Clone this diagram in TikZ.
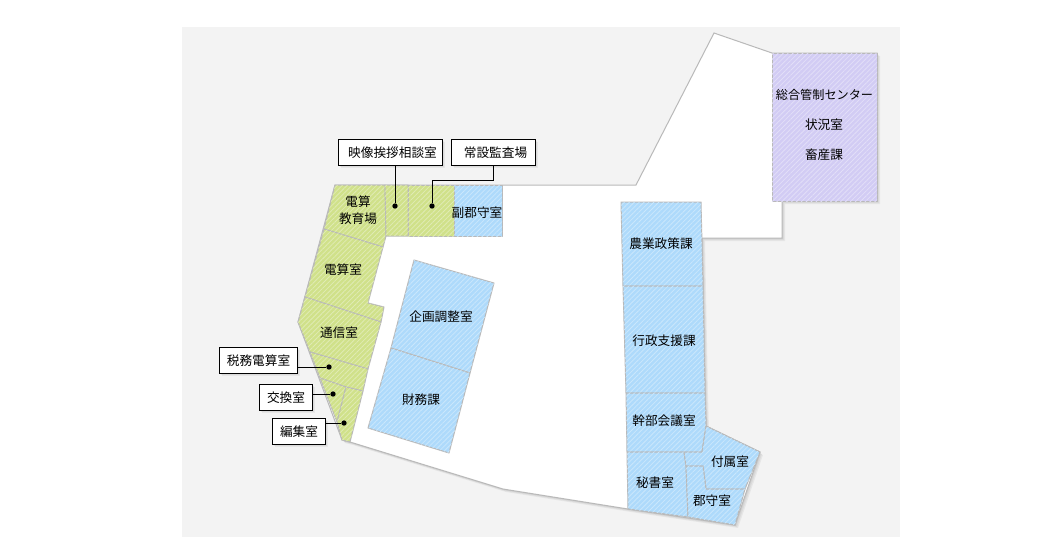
\documentclass[tikz,border=0pt]{standalone}
\usepackage{fontspec}
\setmainfont{Noto Sans CJK JP}
\usetikzlibrary{patterns.meta}
\definecolor{bggray}{HTML}{F3F3F3}
\definecolor{roomline}{HTML}{B9B9B9}
\definecolor{greenroom}{HTML}{D0E18A}
\definecolor{blueroom}{HTML}{AEDAFB}
\definecolor{purpleroom}{HTML}{D2CCF4}
\tikzset{
  planline/.style={draw=roomline,fill=white,line width=0.75pt},
  castshadow/.style={fill=black,opacity=0.05},
  room/.style={draw=roomline,line width=0.75pt,line join=round,fill=#1,
    postaction={pattern={Lines[angle=45,distance=2.6pt,line width=0.6pt]},pattern color=white!35!#1}},
  roomname/.style={font=\fontsize{9.5pt}{11pt}\selectfont,align=center,inner sep=0pt},
  tagbox/.style={draw=black,fill=white,line width=0.75pt,font=\fontsize{9.5pt}{11pt}\selectfont,inner sep=0pt,anchor=north west},
  pindot/.style={circle,fill=black,inner sep=0pt,minimum size=4pt},
  leader/.style={draw=black,line width=0.75pt}
}
\begin{document}
\begin{tikzpicture}[x=0.75pt,y=-0.75pt]
\useasboundingbox (0,0) rectangle (1052,557);
\fill[bggray] (182,27) rectangle (900,537);
% outline of the building
\def\outline{(335,185) -- (636,185) -- (714,33) -- (772,53) -- (877,53) -- (877,201) -- (782,201) -- (782,238) -- (702,238) -- (705,392) -- (706,426) -- (760,452) -- (735,525) -- (628,509) -- (503,489) -- (350,442) -- (342,440) -- (298,322) -- cycle}
\foreach \s in {1,2,3} {
  \fill[castshadow,shift={(\s,\s)}] \outline;
}
\draw[planline] \outline;
% green rooms
\foreach \p in {
  {(335,185) -- (385,185) -- (386,236) -- (383,247) -- (324,229) -- cycle},
  {(385,185) -- (408,185) -- (408,236) -- (386,236) -- cycle},
  {(408,185) -- (454,185) -- (454,236) -- (408,236) -- cycle},
  {(324,229) -- (383,247) -- (368,303) -- (384,307) -- (381,322) -- (305,297) -- cycle},
  {(305,297) -- (381,322) -- (368,369) -- (310,352) -- (298,322) -- cycle},
  {(310,352) -- (368,369) -- (363,391) -- (346,387) -- (320,378) -- cycle},
  {(320,378) -- (346,387) -- (337,422) -- cycle},
  {(346,387) -- (363,391) -- (350,442) -- (342,440) -- (337,422) -- cycle}
} {
  \draw[room=greenroom] \p;
}
% blue rooms
\foreach \p in {
  {(454,185) -- (502,185) -- (502,236) -- (454,236) -- cycle},
  {(414,260) -- (494,283) -- (470,373) -- (391,348) -- cycle},
  {(391,348) -- (470,373) -- (449,453) -- (368,428) -- cycle},
  {(621,202) -- (701,202) -- (703,286) -- (623,286) -- cycle},
  {(623,286) -- (703,286) -- (705,393) -- (626,393) -- cycle},
  {(626,393) -- (705,393) -- (706,426) -- (702,452) -- (627,452) -- cycle},
  {(627,452) -- (684,452) -- (686,466) -- (688,517) -- (628,509) -- cycle},
  {(684,452) -- (702,452) -- (706,426) -- (760,452) -- (745,489) -- (706,489) -- (703,466) -- (686,466) -- cycle},
  {(686,466) -- (703,466) -- (706,489) -- (745,489) -- (735,525) -- (688,517) -- cycle}
} {
  \draw[room=blueroom] \p;
}
% purple room
\draw[room=purpleroom] (772,53) rectangle (877,201);
% room names
\node[roomname] (denkyo) at (358,210.5) {電算\\[2pt]教育場};
\node[roomname] (fuku) at (477,213) {副郡守室};
\node[roomname] (densan) at (343,270) {電算室};
\node[roomname] (tsushin) at (339,333) {通信室};
\node[roomname] (kikaku) at (441,317) {企画調整室};
\node[roomname] (zaimu) at (421,400) {財務課};
\node[roomname,font=\fontsize{9.1pt}{11pt}\selectfont] (sogo) at (824.5,95) {総合管制センター};
\node[roomname] (jokyo) at (824,125) {状況室};
\node[roomname] (chiku) at (824,155) {畜産課};
\node[roomname] (nogyo) at (661,244) {農業政策課};
\node[roomname] (gyosei) at (664,341) {行政支援課};
\node[roomname] (kanbu) at (664,421) {幹部会議室};
\node[roomname] (hisho) at (655,483) {秘書室};
\node[roomname] (fuzoku) at (730,462) {付属室};
\node[roomname] (gunshu) at (712,501) {郡守室};
% points in the rooms
\node[pindot] (d_eizo) at (395,206) {};
\node[pindot] (d_josetsu) at (432,206) {};
\node[pindot] (d_zeimu) at (329,367) {};
\node[pindot] (d_kokan) at (333,394) {};
\node[pindot] (d_henshu) at (344,423) {};
% tags
\foreach \nm/\tx/\x/\y/\w in {
  eizo/\hspace{3pt}映像挨拶相談室/338/139/104,
  josetsu/\hspace{3pt}常設監査場/451/139/84,
  zeimu/税務電算室/219/347/78,
  kokan/交換室/259/384/53,
  henshu/編集室/272/418/53
} {
  \foreach \s in {1,2,3} {
    \fill[castshadow,shift={(\s,\s)}] (\x,\y) rectangle ++(\w,26);
  }
  \node[tagbox,minimum width=\w*0.75pt,minimum height=19.5pt] (t_\nm) at (\x,\y) {\tx};
}
\draw[leader] (t_eizo.south -| d_eizo) -- (d_eizo);
\draw[leader] (t_josetsu.south) -- ++(0,14) -| (d_josetsu);
\draw[leader] (t_zeimu.east |- d_zeimu) -- (d_zeimu);
\draw[leader] (t_kokan.east |- d_kokan) -- (d_kokan);
\draw[leader] (t_henshu.east |- d_henshu) -- (d_henshu);
\end{tikzpicture}
\end{document}
